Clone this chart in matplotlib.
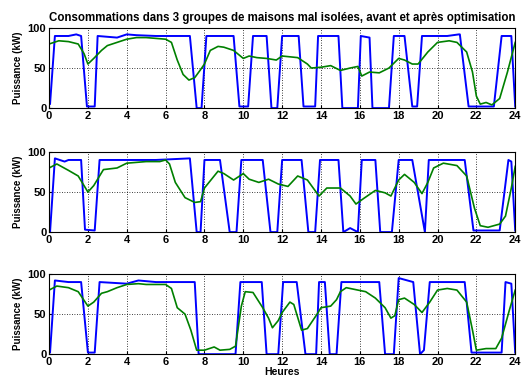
import matplotlib
matplotlib.use("Agg")
import matplotlib.pyplot as plt
import numpy as np

# heures / puissance (kW)
t_blue1 = [0, 0.05, 0.3, 1.0, 1.4, 1.65, 1.95, 2.35, 2.5, 3.5, 4.0, 4.5, 5.5, 6.5, 7.25, 7.6, 7.85, 8.1, 9.5, 9.8, 10.25,
           10.5, 11.2, 11.45, 11.75, 12.0, 12.85, 13.1, 13.7, 13.85, 14.9, 15.1, 15.9, 16.05, 16.5, 16.65, 17.5, 17.75,
           18.3, 18.7, 18.95, 19.2, 20.5, 21.1, 21.15, 21.6, 22.9, 23.3, 23.8, 24.0]
p_blue1 = [5, 5, 90, 90, 92, 90, 2, 2, 90, 88, 92, 91, 90, 90, 90, 0, 0, 90, 90, 2, 2,
           90, 90, 0, 0, 90, 90, 2, 2, 90, 90, 0, 0, 90, 88, 0, 0, 90,
           90, 2, 2, 90, 90, 92, 92, 2, 2, 90, 90, 2]
t_green1 = [0, 0.5, 1.0, 1.5, 1.8, 2.0, 2.3, 2.7, 3.0, 3.5, 4.0, 4.5, 5.0, 6.0, 6.3, 6.6, 6.9, 7.2, 7.5, 7.8, 8.0, 8.3,
            8.7, 9.0, 9.5, 10.0, 10.3, 10.7, 11.2, 11.7, 12.0, 12.8, 13.3, 13.5, 14.0, 14.5, 15.0, 15.5, 15.9, 16.1,
            16.5, 17.0, 17.5, 18.0, 18.3, 18.7, 19.0, 19.5, 20.0, 20.6, 21.0, 21.5, 21.8, 22.0, 22.2, 22.5, 22.8,
            23.2, 23.6, 24.0]
p_green1 = [80, 84, 83, 80, 68, 55, 62, 72, 78, 82, 86, 88, 88, 86, 82, 60, 42, 35, 38, 48, 55, 72,
            77, 76, 72, 62, 65, 63, 62, 60, 65, 63, 55, 50, 51, 53, 47, 50, 52, 40,
            45, 44, 50, 62, 60, 55, 55, 70, 82, 84, 82, 70, 45, 15, 5, 7, 4,
            12, 45, 82]

t_blue2 = [0, 0.05, 0.3, 0.8, 1.0, 1.65, 1.85, 2.35, 2.6, 4.0, 5.5, 7.25, 7.6, 7.8, 8.0, 8.8, 9.3, 9.65, 9.9, 11.0,
           11.4, 11.75, 12.0, 13.0, 13.35, 13.7, 13.95, 14.9, 15.15, 15.5, 15.9, 16.1, 16.8, 17.05, 17.65, 18.0,
           18.7, 19.35, 19.55, 21.4, 21.85, 23.2, 23.65, 23.8, 24.0]
p_blue2 = [0, 0, 92, 88, 90, 90, 3, 2, 90, 90, 90, 92, 0, 0, 90, 90, 0, 0, 90, 90,
           0, 0, 90, 90, 0, 0, 90, 90, 0, 5, 0, 90, 90, 0, 0, 90,
           90, 0, 90, 90, 2, 2, 90, 88, 2]
t_green2 = [0, 0.4, 1.0, 1.5, 2.0, 2.3, 2.8, 3.5, 4.0, 5.0, 5.7, 6.0, 6.2, 6.5, 7.0, 7.5, 7.8, 8.0, 8.5, 8.7, 9.0, 9.5,
            10.0, 10.3, 10.8, 11.3, 11.8, 12.3, 12.8, 13.3, 13.6, 13.9, 14.3, 15.0, 15.5, 15.8, 16.2, 16.8, 17.3,
            17.6, 18.0, 18.3, 18.8, 19.2, 19.5, 19.8, 20.3, 21.0, 21.5, 21.9, 22.2, 22.6, 23.2, 23.5, 23.8, 24.0]
p_green2 = [80, 85, 77, 70, 50, 58, 78, 80, 86, 88, 88, 90, 85, 62, 43, 37, 38, 55, 70, 76, 73, 65,
            73, 66, 62, 66, 60, 57, 70, 65, 55, 45, 55, 55, 45, 35, 42, 52, 49,
            45, 65, 72, 62, 48, 62, 80, 86, 83, 70, 30, 8, 6, 10, 20, 55, 82]

t_blue3 = [0, 0.05, 0.3, 1.0, 1.65, 2.0, 2.35, 2.6, 4.0, 4.6, 5.5, 7.5, 7.7, 9.6, 9.85, 10.95, 11.2, 11.8, 12.05,
           12.75, 13.2, 13.75, 13.9, 14.2, 14.45, 14.8, 15.05, 17.0, 17.3, 17.75, 18.0, 18.75, 19.1, 19.3, 19.6,
           21.4, 21.75, 23.3, 23.5, 23.8, 24.0]
p_blue3 = [2, 2, 92, 90, 90, 2, 2, 90, 88, 92, 90, 90, 0, 0, 90, 90, 0, 0, 90,
           90, 0, 0, 90, 90, 0, 0, 90, 90, 0, 0, 95, 90, 0, 5, 90,
           90, 2, 2, 90, 88, 2]
t_green3 = [0, 0.4, 1.0, 1.5, 2.0, 2.3, 2.7, 3.0, 3.5, 4.0, 4.6, 5.0, 6.0, 6.3, 6.6, 7.0, 7.3, 7.6, 8.0, 8.5, 8.8,
            9.3, 9.6, 9.9, 10.1, 10.5, 11.0, 11.3, 11.5, 11.8, 12.0, 12.4, 12.6, 13.0, 13.3, 13.8, 14.0, 14.5,
            14.8, 15.0, 15.3, 15.7, 16.3, 16.8, 17.3, 17.6, 17.8, 18.0, 18.3, 18.8, 19.2, 19.6, 20.0, 20.5, 21.0,
            21.5, 21.8, 22.0, 22.5, 23.0, 23.3, 23.7, 24.0]
p_green3 = [80, 85, 83, 78, 60, 65, 76, 78, 83, 87, 88, 87, 87, 82, 58, 50, 30, 5, 5, 9, 5,
            6, 10, 60, 78, 77, 58, 45, 33, 42, 52, 65, 62, 30, 32, 50, 58, 60,
            68, 78, 83, 81, 78, 70, 58, 45, 48, 68, 70, 62, 52, 65, 80, 82, 80,
            65, 30, 5, 7, 7, 20, 55, 80]

series = [(t_blue1, p_blue1, t_green1, p_green1),
          (t_blue2, p_blue2, t_green2, p_green2),
          (t_blue3, p_blue3, t_green3, p_green3)]

plt.rcParams['font.family'] = ['Liberation Sans', 'DejaVu Sans']
plt.rcParams['font.weight'] = 'bold'

fig = plt.figure(figsize=(5.22, 3.78), dpi=100)
bottoms = [0.714, 0.386, 0.063]

for i, (tb, pb, tg, pg) in enumerate(series):
    ax = fig.add_axes([0.094, bottoms[i], 0.893, 0.212])
    ax.plot(tb, pb, color=(0, 0, 1), lw=1.4)
    ax.plot(tg, pg, color=(0, 0.5, 0), lw=1.2)
    ax.set_xlim(0, 24)
    ax.set_ylim(0, 100)
    ax.set_xticks(np.arange(0, 25, 2))
    ax.set_yticks([0, 50, 100])
    ax.grid(True, color='black', linestyle=(0, (1, 2)), lw=0.6)
    ax.tick_params(labelsize=8, length=2, direction='in', pad=2)
    for lab in ax.get_xticklabels() + ax.get_yticklabels():
        lab.set_fontweight('bold')
    ax.set_ylabel('Puissance (kW)', fontsize=7, fontweight='bold', labelpad=3)
    for s in ax.spines.values():
        s.set_linewidth(0.8)
    if i == 0:
        ax.set_title('Consommations dans 3 groupes de maisons mal isolées, avant et après optimisation',
                     fontsize=8.3, fontweight='bold', pad=5)
    if i == 2:
        ax.set_xlabel('Heures', fontsize=7.5, fontweight='bold', labelpad=0)

fig.savefig('out.png', dpi=100)
